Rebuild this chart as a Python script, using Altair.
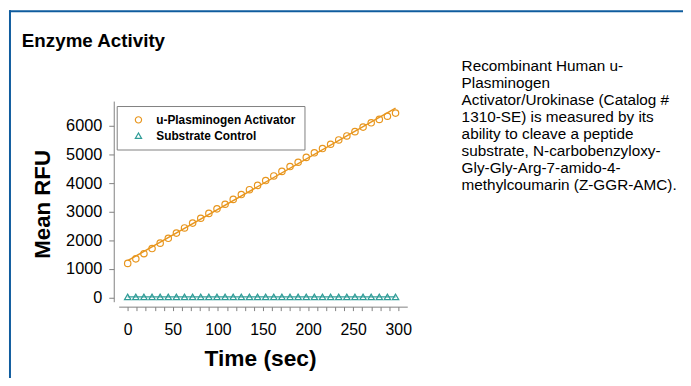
import altair as alt
import pandas as pd

# ---- data ----
times = [0, 9, 18, 27, 36, 45, 54, 63, 72, 81, 90, 99, 108, 117, 126, 135, 144,
         153, 162, 171, 180, 189, 198, 207, 216, 225, 234, 243, 252, 261, 270,
         279, 288, 297]
upa_rfu = [1190, 1350, 1530, 1710, 1900, 2070, 2250, 2430, 2600, 2770, 2940,
           3100, 3260, 3430, 3600, 3770, 3920, 4090, 4250, 4410, 4580, 4730,
           4900, 5060, 5210, 5360, 5510, 5650, 5800, 5960, 6110, 6230, 6340, 6450]
control_rfu = [20, 20, 20, 20, 20, 20, 20, 20, 20, 20, 20, 20, 20, 20, 20, 20,
               20, 20, 20, 20, 20, 20, 20, 20, 20, 20, 20, 20, 20, 20, 20, 20, 20, 20]
series_names = ["u-Plasminogen Activator", "Substrate Control"]
series_colors = ["#E8961E", "#2F9C97"]
series_shapes = ["circle", "triangle-up"]
x_ticks = [0, 10, 20, 30, 40, 50, 60, 70, 80, 90, 100, 110, 120, 130, 140, 150,
           160, 170, 180, 190, 200, 210, 220, 230, 240, 250, 260, 270, 280, 290, 300]
y_ticks = [0, 1000, 2000, 3000, 4000, 5000, 6000]
panel_title = "Enzyme Activity"
description_lines = [
    "Recombinant Human u-",
    "Plasminogen",
    "Activator/Urokinase (Catalog #",
    "1310-SE) is measured by its",
    "ability to cleave a peptide",
    "substrate, N-carbobenzyloxy-",
    "Gly-Gly-Arg-7-amido-4-",
    "methylcoumarin (Z-GGR-AMC).",
]

rows = []
for t, v in zip(times, upa_rfu):
    rows.append({"time": t, "value": v, "series": series_names[0]})
for t, v in zip(times, control_rfu):
    rows.append({"time": t, "value": v, "series": series_names[1]})
df = pd.DataFrame(rows)
one = pd.DataFrame({"k": [0]})

FONT = "Liberation Sans"
W, H = 292, 203

xscale = alt.Scale(domain=[-10, 310], nice=False, zero=False)
yscale = alt.Scale(domain=[-150, 6870], nice=False, zero=False)

x_axis = alt.Axis(title="Time (sec)", values=x_ticks, format="d",
                  labelExpr="datum.value % 50 === 0 ? datum.label : ''",
                  labelOverlap=False, labelFlush=False,
                  offset=5, tickSize=4, domainColor="#808080",
                  tickColor="#808080", grid=False, labelFontSize=16,
                  labelColor="#000", labelPadding=11, labelFont=FONT,
                  titleFont=FONT, titleFontSize=23, titleFontWeight="bold",
                  titleColor="#000", titleX=143, titleY=53,
                  titleBaseline="middle", titleAlign="center")
y_axis = alt.Axis(title="Mean RFU", values=y_ticks, format="d",
                  labelOverlap=False, labelFlush=False,
                  offset=5, tickSize=5,
                  domainColor="#808080", tickColor="#808080", grid=False,
                  labelFontSize=16.5, labelColor="#000", labelPadding=7,
                  labelFont=FONT, titleFont=FONT, titleFontSize=22.5,
                  titleFontWeight="bold", titleColor="#000",
                  titleX=-72, titleY=104, titleBaseline="middle",
                  titleAlign="center", titleAngle=270)


def xe():
    return alt.X("time:Q", scale=xscale, axis=x_axis)


def ye():
    return alt.Y("value:Q", scale=yscale, axis=y_axis)


base = alt.Chart(df)

points = base.mark_point(filled=False, size=42, strokeWidth=1.2, opacity=1).encode(
    x=xe(),
    y=ye(),
    color=alt.Color("series:N",
                    scale=alt.Scale(domain=series_names, range=series_colors),
                    legend=alt.Legend(title=None, orient="none", legendX=-2, legendY=5,
                                      strokeColor="#808080", fillColor="#fff",
                                      padding=8, symbolOffset=8, labelOffset=12,
                                      labelFont=FONT, labelFontSize=12,
                                      labelFontWeight="bold", labelColor="#000",
                                      symbolSize=40, symbolStrokeWidth=1.2,
                                      rowPadding=4, cornerRadius=0)),
    shape=alt.Shape("series:N",
                    scale=alt.Scale(domain=series_names, range=series_shapes)),
)

line_upa = base.transform_filter(alt.datum.series == series_names[0]).transform_regression(
    "time", "value").mark_line(color=series_colors[0], strokeWidth=1.5).encode(
    x=xe(), y=ye())
line_ctl = base.transform_filter(alt.datum.series == series_names[1]).transform_regression(
    "time", "value").mark_line(color=series_colors[1], strokeWidth=1.2).encode(
    x=xe(), y=ye())

# page frame (blue border of the panel)
frame_top = alt.Chart(one).mark_rule(color="#0F5C9E", strokeWidth=2).encode(
    x=alt.value(-111), x2=alt.value(571), y=alt.value(-91))
frame_left = alt.Chart(one).mark_rule(color="#0F5C9E", strokeWidth=2).encode(
    x=alt.value(-110), y=alt.value(-92), y2=alt.value(290))

title_text = alt.Chart(one).mark_text(
    text=panel_title, font=FONT, fontSize=19, fontWeight="bold", align="left",
    baseline="alphabetic", color="#000").encode(x=alt.value(-98), y=alt.value(-55))

desc_text = alt.Chart(one).mark_text(
    text=description_lines, font=FONT, fontSize=15.5, align="left", baseline="middle",
    lineHeight=17.2, color="#000").encode(x=alt.value(347), y=alt.value(-35))

chart = alt.layer(points, line_upa, line_ctl, frame_top, frame_left, title_text,
                  desc_text).properties(
    width=W, height=H,
    autosize=alt.AutoSizeParams(type="none"),
    padding={"left": 112, "top": 92, "right": 279, "bottom": 75},
    background="#ffffff",
).configure_view(stroke=None)

chart.save("out.html", embed_options={"renderer": "svg", "actions": False})
